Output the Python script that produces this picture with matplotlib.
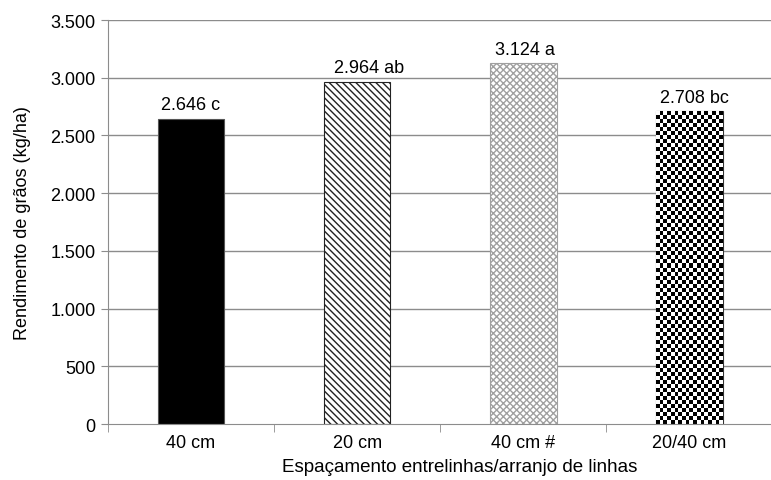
import numpy as np
import matplotlib
matplotlib.use("Agg")
import matplotlib.pyplot as plt
from matplotlib.ticker import FuncFormatter

plt.rcParams['font.family'] = ['Liberation Sans', 'DejaVu Sans']
plt.rcParams['hatch.linewidth'] = 1.0

categories = ["40 cm", "20 cm", "40 cm #", "20/40 cm"]
yields = [2646, 2964, 3124, 2708]
letters = ["c", "ab", "a", "bc"]
yticks = [0, 500, 1000, 1500, 2000, 2500, 3000, 3500]

fig = plt.figure(figsize=(7.71, 4.81), dpi=100)
ax = fig.add_axes([0.140, 0.1164, 0.862, 0.8399])

x = np.arange(len(categories))
width = 0.4
grid_c = "#8c8c8c"
fs = 13

ax.set_xlim(-0.5, len(categories) - 0.5)
ax.set_ylim(0, 3500)
ax.set_yticks(yticks)
ax.yaxis.set_major_formatter(FuncFormatter(lambda v, p: f"{int(v):,}".replace(",", ".")))
for t in yticks[1:]:
    ax.axhline(t, color=grid_c, lw=1.0, zorder=0)

bars = ax.bar(x, yields, width=width, zorder=2, linewidth=0.8)

# solid black
bars[0].set_facecolor("black")
bars[0].set_edgecolor("#555555")
# dense diagonal lines
bars[1].set_facecolor("white")
bars[1].set_edgecolor("#222222")
bars[1].set_hatch("\\\\\\\\\\")
# light weave
bars[2].set_facecolor("white")
bars[2].set_edgecolor("#a0a0a0")
bars[2].set_hatch("xxxxx")
# checkerboard texture clipped to the bar
bars[3].set_facecolor("white")
bars[3].set_edgecolor("#333333")
b = bars[3]
bx0, by0 = b.get_x(), b.get_y()
bx1, by1 = bx0 + b.get_width(), by0 + b.get_height()
n_cols = 18
n_rows = 78
checker = (np.indices((n_rows, n_cols)).sum(axis=0) % 2).astype(float)
img = ax.imshow(checker, cmap="gray", extent=(bx0, bx1, by0, by1), aspect="auto",
                interpolation="nearest", zorder=2.5, origin="lower", vmin=0, vmax=1)
img.set_clip_path(b)
ax.set_aspect("auto")
ax.set_xlim(-0.5, len(categories) - 0.5)
ax.set_ylim(0, 3500)

offsets = [0.0, 0.07, 0.01, 0.03]
for xi, v, l, off in zip(x, yields, letters, offsets):
    label = f"{v:,}".replace(",", ".") + " " + l
    ax.text(xi + off, v + 50, label, ha="center", va="bottom", fontsize=fs, color="black")

ax.set_xticks(x)
ax.set_xticklabels(categories, fontsize=fs)
ax.tick_params(axis="x", length=0, pad=7)
ax.set_xticks(np.arange(-0.5, len(categories) + 0.5, 1.0), minor=True)
ax.tick_params(axis="x", which="minor", length=6, color=grid_c)
ax.tick_params(axis="y", labelsize=fs, length=5, color=grid_c, pad=4)

for s in ["top", "right"]:
    ax.spines[s].set_visible(False)
ax.spines["left"].set_color(grid_c)
ax.spines["bottom"].set_color(grid_c)

ax.set_ylabel("Rendimento de grãos (kg/ha)", fontsize=fs, labelpad=14)
ax.set_xlabel("Espaçamento entrelinhas/arranjo de linhas", fontsize=13.5, labelpad=5, x=0.53)

fig.savefig("out.png", dpi=100)
